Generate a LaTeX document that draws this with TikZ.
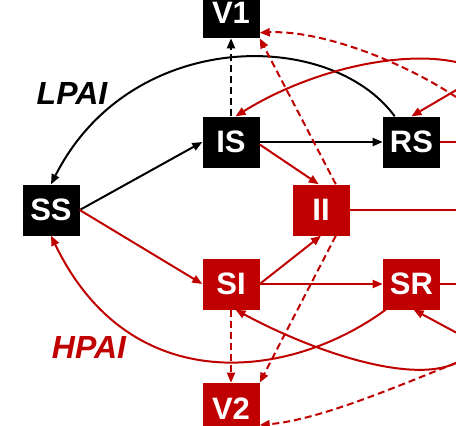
\documentclass[tikz,border=0pt]{standalone}
\usepackage{fontspec}
\setmainfont{Liberation Sans}
\usepackage{xcolor}
\usetikzlibrary{arrows.meta,positioning}
\definecolor{hpred}{RGB}{192,0,0}

\begin{document}
\begin{tikzpicture}[
  x=1pt, y=-1pt,
  lpbox/.style={fill=black, text=white, font=\bfseries\fontsize{31}{31}\selectfont,
    minimum width=57pt, minimum height=51pt, inner sep=0pt},
  hpbox/.style={lpbox, fill=hpred},
  tag/.style={font=\bfseries\itshape\fontsize{32}{32}\selectfont},
  lpflow/.style={-{Triangle[length=10pt,width=8pt]}, line width=2pt, draw=black},
  hpflow/.style={lpflow, draw=hpred},
  lpvac/.style={lpflow, dash pattern=on 7pt off 4pt},
  hpvac/.style={hpflow, dash pattern=on 7pt off 4pt}
]
\useasboundingbox (0,0) rectangle (456,426);
\clip (0,0) rectangle (456,426);
\node[lpbox] (is) at (231,142) {IS};
\node[lpbox, right=123pt of is] (rs) {RS};
\node[lpbox, above=78pt of is] (v1) {V1};
\node[lpbox] (ss) at (51,210) {SS};
\node[hpbox] (ii) at (321,210) {II};
\node[hpbox] (si) at (231,284) {SI};
\node[hpbox, right=123pt of si] (sr) {SR};
\node[hpbox, below=73pt of si] (v2) {V2};
\node[tag, text=black] (lpai) at (72,93) {LPAI};
\node[tag, text=hpred] (hpai) at (89,347) {HPAI};
\coordinate (inV1) at (456,97);
\coordinate (inIS) at (456,62);
\coordinate (inRS) at (470,82);
\coordinate (outRS) at (470,142);
\coordinate (outII) at (470,210);
\coordinate (outSR) at (470,284);
\coordinate (inSR) at (470,340);
\coordinate (inSI) at (456,363);
\draw[lpflow] (ss.east) -- (is.west);
\draw[lpflow] (is) -- (rs);
\draw[lpflow] ([xshift=12pt]rs.north west) .. controls (330,28) and (130,28) .. (ss.north);
\draw[lpvac] (is) -- (v1);
\draw[hpflow] (ss.east) -- (si.west);
\draw[hpflow] (is.-5) -- (ii.95);
\draw[hpflow] (si.east) -- (ii.south);
\draw[hpflow] (si) -- (sr);
\draw[hpflow] ([xshift=3pt]sr.south west) .. controls (290,380) and (130,400) .. (ss.south);
\draw[hpflow] (inSI) .. controls (410,385) and (310,350) .. (si.-80);
\draw[hpflow] (inSR) -- (sr.-85);
\draw[hpflow] (inIS) .. controls (400,50) and (310,70) .. (is.80);
\draw[hpflow] (inRS) -- (rs.north);
\draw[hpflow, -] (rs) -- (outRS);
\draw[hpflow, -] (ii) -- (outII);
\draw[hpflow, -] (sr) -- (outSR);
\draw[hpvac] (si) -- (v2);
\draw[hpvac] (ii.-60) -- (v2.north east);
\draw[hpvac] (ii.60) -- (v1.south east);
\draw[hpvac] (inV1) .. controls (400,60) and (320,30) .. (v1.-35);
\draw[hpvac] (inSI) .. controls (400,385) and (320,420) .. (v2.-30);
\end{tikzpicture}
\end{document}
